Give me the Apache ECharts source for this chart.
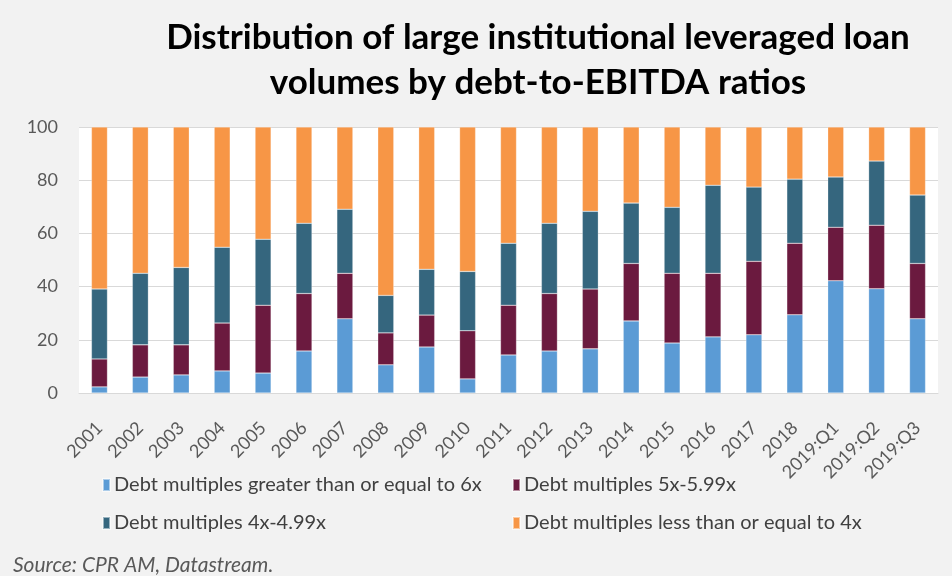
<!DOCTYPE html>
<html><head><meta charset="utf-8">
<script src="https://cdn.jsdelivr.net/npm/echarts@6/dist/echarts.min.js"></script>
<style>html,body{margin:0;padding:0;background:#f2f2f2}#c{width:952px;height:576px}</style>
</head><body><div id="c"></div>
<script>
const categories = ['2001','2002','2003','2004','2005','2006','2007','2008','2009','2010','2011','2012','2013','2014','2015','2016','2017','2018','2019:Q1','2019:Q2','2019:Q3'];
const geq6x = [2.3,6.0,6.8,8.3,7.5,15.8,27.9,10.6,17.3,5.3,14.3,15.8,16.6,27.1,18.8,21.1,21.9,29.4,42.2,39.2,27.9];
const m5to599 = [10.5,12.1,11.3,18.0,25.5,21.6,17.1,12.0,12.0,18.1,18.7,21.6,22.5,21.6,26.2,23.9,27.6,26.9,20.1,23.9,20.8];
const m4to499 = [26.3,26.9,29.1,28.5,24.8,26.4,24.1,14.1,17.2,22.3,23.3,26.4,29.2,22.7,24.8,33.1,27.9,24.1,18.9,24.1,25.7];
const leq4x = [60.9,55.0,52.8,45.2,42.2,36.2,30.9,63.3,53.5,54.3,43.7,36.2,31.7,28.6,30.2,21.9,22.6,19.6,18.8,12.8,25.6];
const yTicks = [0,20,40,60,80,100];
const names = ['Debt multiples greater than or equal to 6x','Debt multiples 5x-5.99x','Debt multiples 4x-4.99x','Debt multiples less than or equal to 4x'];
const colors = ['#5b9bd5','#6b1a3f','#35667e','#f79646'];
const values = [geq6x, m5to599, m4to499, leq4x];

const chart = echarts.init(document.getElementById('c'));
const font = 'Lato, "Open Sans", sans-serif';
const legendPos = [[97,470],[507,470],[97,508],[507,508]];
chart.setOption({
  backgroundColor: '#f2f2f2',
  textStyle: {fontFamily: font},
  title: {
    text: 'Distribution of large institutional leveraged loan\nvolumes by debt-to-EBITDA ratios',
    left: 533, top: 10, textAlign: 'center',
    textStyle: {fontFamily: font, fontWeight: 'bold', fontSize: 35, lineHeight: 45, color: '#000'}
  },
  graphic: [{
    type: 'text', left: 13, top: 555,
    style: {text: 'Source: CPR AM, Datastream.', font: 'italic 21px ' + font, fill: '#595959'}
  }],
  legend: names.map((n, i) => ({
    data: [n], left: legendPos[i][0], top: legendPos[i][1],
    itemWidth: 7, itemHeight: 12, itemGap: 4, icon: 'rect',
    textStyle: {fontSize: 20, color: '#404040', fontFamily: font, padding: [0,0,0,-1]}
  })),
  grid: {left: 79, right: 14, top: 127, bottom: 183, show: true, backgroundColor: '#ffffff', borderWidth: 0},
  xAxis: {
    type: 'category', data: categories,
    axisLine: {lineStyle: {color: '#d9d9d9', width: 1}},
    axisTick: {show: false},
    axisLabel: {rotate: 45, fontSize: 18, color: '#595959', margin: 32, interval: 0}
  },
  yAxis: {
    type: 'value', min: 0, max: 100, interval: 20,
    axisLabel: {fontSize: 18, color: '#595959', margin: 21, formatter: v => yTicks.includes(v) ? String(v) : ''},
    splitLine: {lineStyle: {color: '#d9d9d9', width: 1}},
    axisLine: {show: false}, axisTick: {show: false}
  },
  series: names.map((n, i) => ({
    name: n, type: 'bar', stack: 'total', data: values[i], barWidth: 16,
    itemStyle: {color: colors[i], borderColor: 'rgba(255,255,255,0.5)', borderWidth: 0.5}
  }))
});
</script></body></html>
